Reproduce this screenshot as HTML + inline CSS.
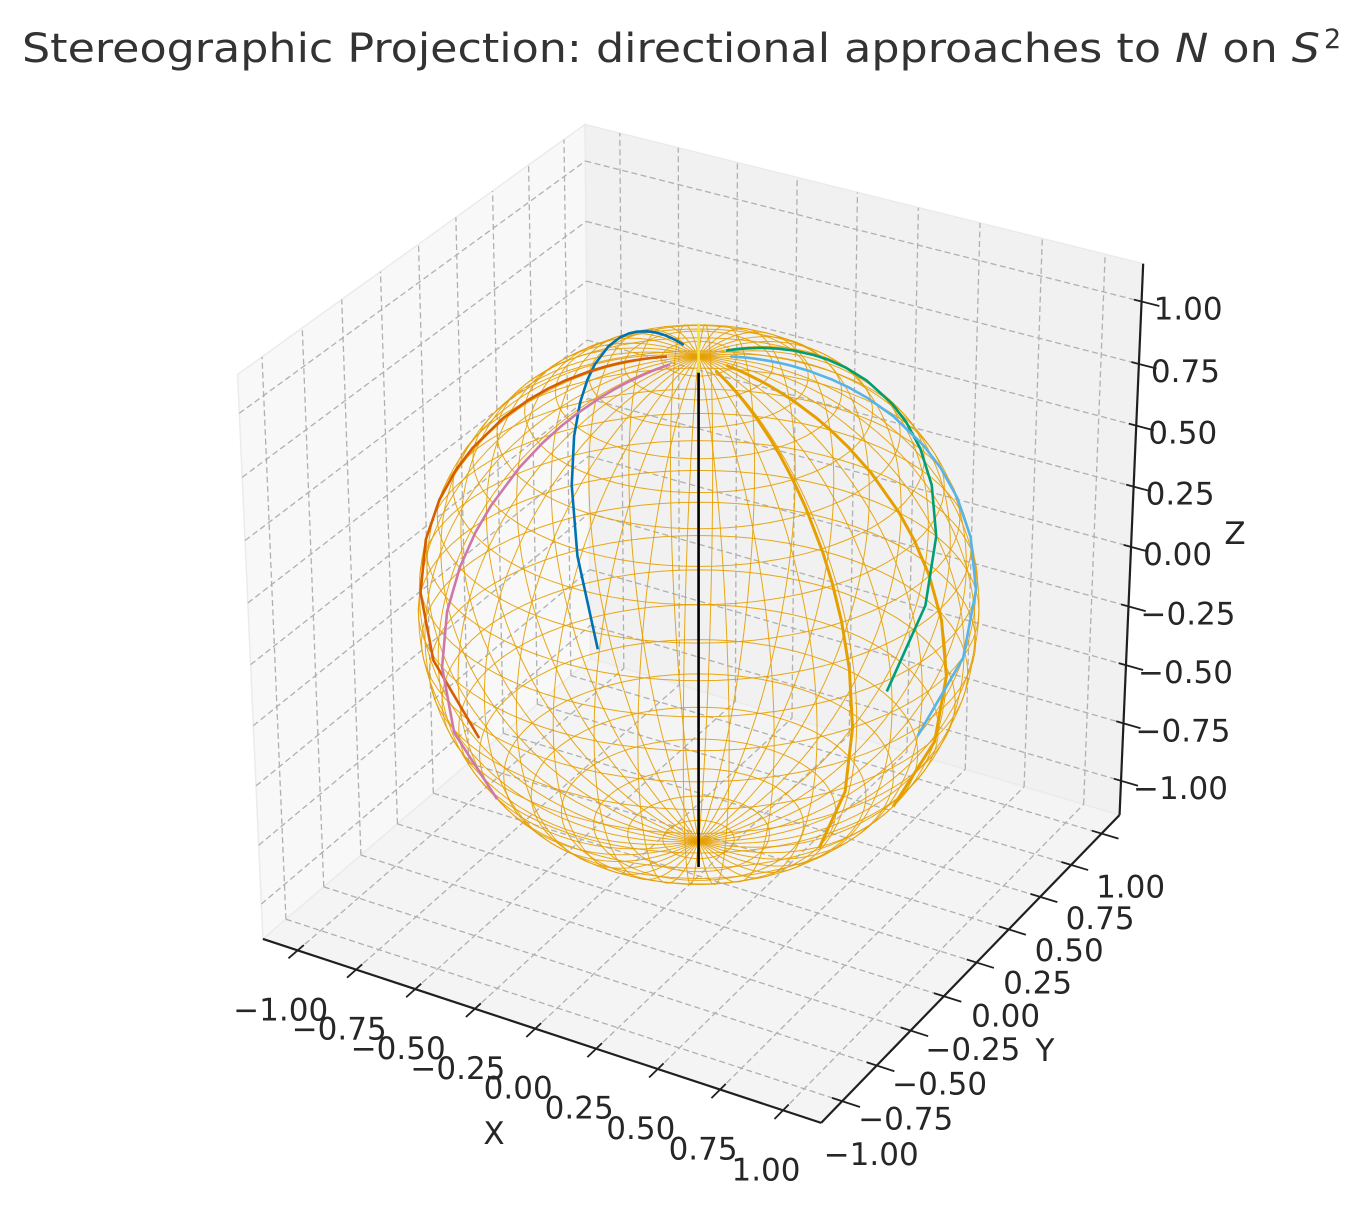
<!DOCTYPE html>
<html><head><meta charset="utf-8"><title>Stereographic Projection</title>
<style>
html,body{margin:0;padding:0;background:#fff;}
svg{display:block;}
text{font-family:"DejaVu Sans","Liberation Sans",sans-serif;}
</style></head>
<body>
<svg id="chart" width="1367" height="1213" viewBox="0 0 1367 1213" xmlns="http://www.w3.org/2000/svg">
  <rect x="0" y="0" width="1367" height="1213" fill="#ffffff"/>
  <text x="22" y="62" font-size="40" fill="#333333" textLength="1298" lengthAdjust="spacingAndGlyphs">Stereographic Projection: directional approaches to <tspan font-style="italic">N</tspan> on <tspan font-style="italic">S</tspan></text>
  <text x="1324" y="48" font-size="27" fill="#333333">2</text>
  <g id="panes"></g>
  <g id="grid"></g>
  <g id="wire"></g>
  <g id="curves"></g>
  <g id="axes"></g>
  <g id="labels"></g>
  <text x="494" y="1144" font-size="31" fill="#262626" text-anchor="middle">X</text>
  <text x="1045" y="1061" font-size="31" fill="#262626" text-anchor="middle">Y</text>
  <text x="1235" y="544" font-size="31" fill="#262626" text-anchor="middle">Z</text>
</svg>
<script>
// ---- chart data ----
const tickValues = [-1, -0.75, -0.5, -0.25, 0, 0.25, 0.5, 0.75, 1];
const tickLabels = ['\u22121.00','\u22120.75','\u22120.50','\u22120.25','0.00','0.25','0.50','0.75','1.00'];
const curveNames = ['blue','dark-orange','pink','orange-a','orange-b','green','sky-blue','yellow','black'];
const curveLongitudes = [148, 205, 236, -28, 0, 60, 36, 120, -60];
const curveColors = ['#0072b2','#d55e00','#cc79a7','#e69f00','#e69f00','#009e73','#56b4e9','#f0e442','#000000'];
const curveWidths = [2.6, 2.6, 2.6, 3.0, 3.0, 2.6, 2.6, 2.6, 2.6];
const planeRadii = [0.5, 0.75, 1, 1.25, 1.5, 1.75, 2, 2.5, 3, 3.5, 4, 5, 6, 7, 8, 10, 12, 15, 18];

// ---- projection ----
const NS = 'http://www.w3.org/2000/svg';
const L = 1.15;
const PI = Math.PI, rad = d => d * PI / 180;
const az = rad(-60), el = rad(30);
const W = [Math.cos(el)*Math.cos(az), Math.cos(el)*Math.sin(az), Math.sin(el)];
const U = [-Math.sin(az), Math.cos(az), 0];
const dot = (a,b) => a[0]*b[0]+a[1]*b[1]+a[2]*b[2];
const V = [W[1]*U[2]-W[2]*U[1], W[2]*U[0]-W[0]*U[2], W[0]*U[1]-W[1]*U[0]];
function camXY(p, D) {
  const b = [p[0]/(2*L), p[1]/(2*L), p[2]/(2*L)];
  const d = D - dot(b, W);
  return [dot(b, U)*D/d, dot(b, V)*D/d];
}
const calib3 = [[-L,-L,-L],[L,-L,-L],[L,L,-L],[L,L,L],[-L,L,L],[-L,-L,L],[0,0,0],[-1,-L,-L],[1,-L,-L],[L,-1,-L],[L,1,-L],[L,L,1]];
const calib2 = [[263,937],[822,1122],[1118,815],[1140,262],[585,125],[238,375],[699,605],[296,953],[782,1110],[845,1102],[1103,833],[1143,302]];
function lsq(xs, ys) {
  const n = xs.length; let sx=0, sy=0, sxx=0, sxy=0;
  for (let i=0;i<n;i++){sx+=xs[i];sy+=ys[i];sxx+=xs[i]*xs[i];sxy+=xs[i]*ys[i];}
  const a = (n*sxy - sx*sy)/(n*sxx - sx*sx); const b = (sy - a*sx)/n;
  let r=0; for (let i=0;i<n;i++){const e=a*xs[i]+b-ys[i]; r+=e*e;}
  return [a,b,r];
}
let best = null;
for (let D = 2; D <= 60; D += 0.25) {
  const cs = calib3.map(p => camXY(p, D));
  const fx = lsq(cs.map(c=>c[0]), calib2.map(c=>c[0]));
  const fy = lsq(cs.map(c=>c[1]), calib2.map(c=>c[1]));
  const r = fx[2] + fy[2];
  if (!best || r < best.r) best = {D, fx, fy, r};
}
function proj(p) {
  const c = camXY(p, best.D);
  return [best.fx[0]*c[0]+best.fx[1], best.fy[0]*c[1]+best.fy[1]];
}
function pathD(pts) {
  return pts.map((p,i) => { const s = proj(p); return (i?'L':'M') + s[0].toFixed(2) + ' ' + s[1].toFixed(2); }).join(' ');
}
function sph(lonDeg, latDeg) {
  const lo = rad(lonDeg), la = rad(latDeg);
  return [Math.cos(la)*Math.cos(lo), Math.cos(la)*Math.sin(lo), Math.sin(la)];
}

// ---- panes ----
const panesG = document.getElementById('panes');
const paneDefs = [
  ['left-wall-pane', [[-L,-L,-L],[-L,L,-L],[-L,L,L],[-L,-L,L]], '#f8f8f8'],
  ['right-wall-pane', [[-L,L,-L],[L,L,-L],[L,L,L],[-L,L,L]], '#f1f1f1'],
  ['floor-pane', [[-L,-L,-L],[L,-L,-L],[L,L,-L],[-L,L,-L]], '#f4f4f4']
];
for (const pd of paneDefs) {
  const el = document.createElementNS(NS, 'path');
  el.setAttribute('d', pathD(pd[1]) + ' Z');
  el.setAttribute('fill', pd[2]);
  el.setAttribute('stroke', '#ebebeb');
  el.setAttribute('stroke-width', '1.5');
  
  
  panesG.appendChild(el);
}

// ---- grid ----
const gridG = document.getElementById('grid');
function gridLine(a, b, name) {
  const el = document.createElementNS(NS, 'path');
  el.setAttribute('d', pathD([a, b]));
  el.setAttribute('stroke', '#b0b0b0');
  el.setAttribute('stroke-width', '1.3');
  el.setAttribute('stroke-dasharray', '6 3.5');
  el.setAttribute('fill', 'none');
  
  
  gridG.appendChild(el);
}
for (const t of tickValues) {
  gridLine([-L,t,-L],[-L,t,L],'left-wall-y-gridline');
  gridLine([-L,-L,t],[-L,L,t],'left-wall-z-gridline');
  gridLine([t,L,-L],[t,L,L],'right-wall-x-gridline');
  gridLine([-L,L,t],[L,L,t],'right-wall-z-gridline');
  gridLine([t,-L,-L],[t,L,-L],'floor-x-gridline');
  gridLine([-L,t,-L],[L,t,-L],'floor-y-gridline');
}

// ---- sphere wireframe ----
const wireG = document.getElementById('wire');
function wirePath(pts, name) {
  const el = document.createElementNS(NS, 'path');
  el.setAttribute('d', pathD(pts));
  el.setAttribute('stroke', '#e69f00');
  el.setAttribute('stroke-width', '1');
  el.setAttribute('stroke-opacity', '0.9');
  el.setAttribute('fill', 'none');
  
  
  wireG.appendChild(el);
}
const MERIDIANS = 40, MERID_STEP = 9, PAR_STEP = 7.5;
for (let k = 0; k < MERIDIANS; k++) {
  const pts = [];
  for (let la = -90; la <= 90; la += 3) pts.push(sph(k*MERID_STEP, la));
  wirePath(pts, 'wireframe-meridian');
}
for (let la = -90 + PAR_STEP; la < 90 - 0.01; la += PAR_STEP) {
  const pts = [];
  for (let lo = 0; lo <= 360; lo += 4) pts.push(sph(lo, la));
  wirePath(pts, 'wireframe-parallel');
}

// ---- approach curves ----
const curvesG = document.getElementById('curves');
for (let i = 0; i < curveLongitudes.length; i++) {
  const pts = planeRadii.map(r => sph(curveLongitudes[i], 2*Math.atan(r)*180/PI - 90));
  const el = document.createElementNS(NS, 'path');
  el.setAttribute('d', pathD(pts));
  el.setAttribute('stroke', curveColors[i]);
  el.setAttribute('stroke-width', String(curveWidths[i]));
  el.setAttribute('fill', 'none');
  el.setAttribute('stroke-linejoin', 'round');
  
  
  curvesG.appendChild(el);
}

// ---- axes, ticks and labels ----
const axesG = document.getElementById('axes');
const labelsG = document.getElementById('labels');
function axLine(a, b, name, w) {
  const el = document.createElementNS(NS, 'path');
  el.setAttribute('d', pathD([a, b]));
  el.setAttribute('stroke', '#1f1f1f');
  el.setAttribute('stroke-width', String(w));
  el.setAttribute('fill', 'none');
  
  
  axesG.appendChild(el);
}
axLine([-L,-L,-L],[L,-L,-L],'x-axis-line',2.2);
axLine([L,-L,-L],[L,L,-L],'y-axis-line',2.2);
axLine([L,L,-L],[L,L,L],'z-axis-line',2.2);
function label(txt, x, y, anchor, name) {
  const el = document.createElementNS(NS, 'text');
  el.setAttribute('x', x.toFixed(1));
  el.setAttribute('y', y.toFixed(1));
  el.setAttribute('font-size', '31');
  el.setAttribute('fill', '#262626');
  el.setAttribute('text-anchor', anchor);
  el.setAttribute('dominant-baseline', 'central');
  
  
  el.textContent = txt;
  labelsG.appendChild(el);
}
tickValues.forEach((t, i) => {
  axLine([t,-L+0.04,-L],[t,-L-0.06,-L],'x-tick',1.8);
  axLine([L-0.04,t,-L],[L+0.07,t,-L],'y-tick',1.8);
  axLine([L-0.03,L,t],[L+0.07,L,t],'z-tick',1.8);
  const px = proj([t,-L,-L]);
  label(tickLabels[i], px[0]-17, px[1]+60, 'middle', 'x-tick-label');
  const py = proj([L,t,-L]);
  label(tickLabels[i], py[0]+29, py[1]+54, 'middle', 'y-tick-label');
  const pz = proj([L,L,t]);
  label(tickLabels[i], pz[0]+12, pz[1]+8, 'start', 'z-tick-label');
});
</script>
</body></html>
